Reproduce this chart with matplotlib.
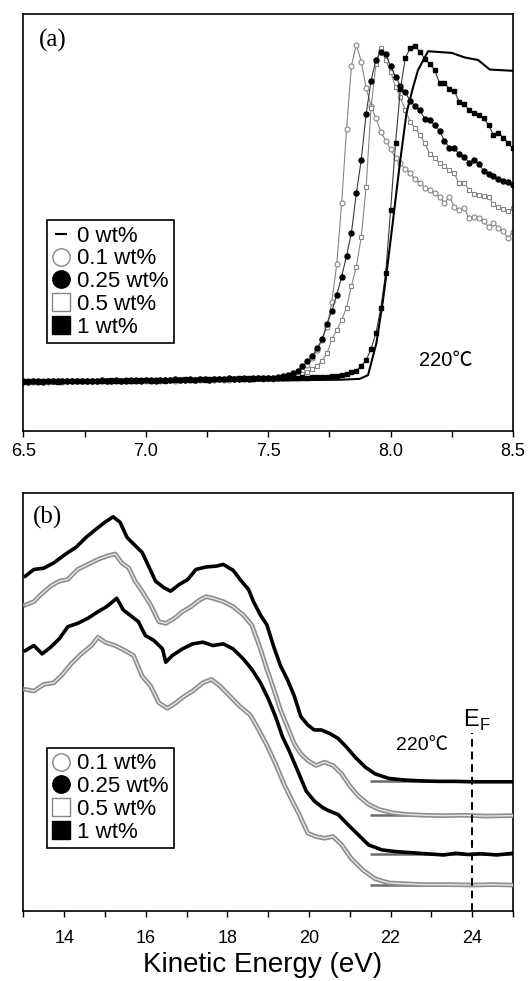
import numpy as np
import matplotlib
matplotlib.use("Agg")
import matplotlib.pyplot as plt
from matplotlib.lines import Line2D

plt.rcParams["font.family"] = ["Liberation Sans", "Noto Sans CJK SC", "DejaVu Sans"]

# ---- panel (a): secondary electron cutoff, 6.5 - 8.5 eV, 0.02 eV steps ----
energy_a = np.round(np.arange(6.5, 8.501, 0.02), 2)

cutoff_0 = [11.9, 12.0, 12.1, 12.3, 12.5, 13.4, 21.1, 31.4, 41.0, 50.6,
            64.3, 76.3, 82.5, 86.6, 91.1, 90.7, 89.6, 89.0, 86.7, 86.4]
energy_0 = [6.5, 7.0, 7.5, 7.80, 7.874, 7.908, 7.942, 7.969, 7.990, 8.010,
            8.038, 8.065, 8.092, 8.112, 8.153, 8.249, 8.303, 8.357, 8.405, 8.5]

cutoff_01 = [11.8, 11.9, 11.7, 11.8, 11.9, 11.8, 12.0, 11.9, 11.8, 12.0,
             11.9, 12.1, 11.9, 12.0, 12.1, 12.0, 11.9, 12.1, 12.0, 12.1,
             12.0, 12.2, 12.0, 12.1, 12.2, 12.1, 12.0, 12.2, 12.1, 12.2,
             12.2, 12.1, 12.3, 12.2, 12.2, 12.3, 12.2, 12.4, 12.3, 12.2,
             12.4, 12.3, 12.3, 12.5, 12.4, 12.4, 12.5, 12.4, 12.6, 12.5,
             12.6, 12.5, 12.7, 12.7, 12.8,
             13.0, 13.5, 14.4, 15.8, 17.4, 19.4, 21.8, 25.0, 31.0, 40.0,
             54.6, 72.4, 87.6, 92.7, 88.6, 82.3, 78.0, 75.0, 71.8, 69.6,
             67.6, 65.4, 64.2, 62.9, 61.8, 60.4, 59.6, 58.4, 57.9, 57.1,
             56.2, 54.7, 56.2, 53.8, 53.0, 53.6, 51.0, 51.3, 51.0, 50.4,
             49.0, 50.0, 48.6, 48.0, 46.2, 47.8]

cutoff_025 = [12.0, 11.8, 11.9, 12.0, 11.8, 11.9, 12.0, 12.1, 11.9, 12.0,
              12.1, 12.0, 11.9, 12.1, 12.0, 12.1, 12.2, 12.0, 12.1, 12.2,
              12.1, 12.0, 12.2, 12.3, 12.1, 12.2, 12.3, 12.1, 12.2, 12.3,
              12.2, 12.4, 12.3, 12.2, 12.4, 12.3, 12.4, 12.5, 12.3, 12.4,
              12.5, 12.4, 12.6, 12.5, 12.4, 12.6, 12.5, 12.6, 12.7, 12.6,
              12.6, 12.7, 12.9, 13.2, 13.5,
              14.0, 14.4, 15.5, 16.7, 17.9, 19.8, 22.0, 25.6, 28.8, 32.6,
              37.0, 42.0, 47.6, 57.0, 65.0, 76.0, 84.0, 89.0, 91.0, 90.4,
              87.5, 85.0, 82.8, 81.2, 79.2, 77.9, 76.9, 74.8, 74.5, 73.4,
              72.0, 69.6, 68.0, 67.8, 66.4, 65.8, 64.4, 65.0, 64.0, 62.4,
              61.7, 61.1, 60.4, 59.9, 59.8, 59.0]

cutoff_05 = [11.9, 12.0, 11.8, 11.9, 12.0, 11.9, 11.8, 12.0, 12.1, 11.9,
             12.0, 12.1, 12.0, 11.9, 12.1, 12.0, 12.1, 12.2, 12.0, 12.1,
             12.2, 12.1, 12.0, 12.2, 12.2, 12.1, 12.3, 12.2, 12.2, 12.3,
             12.3, 12.2, 12.4, 12.3, 12.3, 12.4, 12.3, 12.4, 12.5, 12.4,
             12.5, 12.4, 12.5, 12.6, 12.5, 12.5, 12.6, 12.7, 12.6, 12.7,
             12.7, 12.8, 12.8, 12.9, 13.0,
             13.2, 13.4, 13.7, 14.1, 14.8, 15.6, 16.9, 18.6, 22.0, 24.2,
             26.6, 29.6, 34.8, 39.4, 46.5, 58.5, 77.5, 88.0, 91.8, 89.0,
             86.2, 82.6, 80.0, 77.0, 74.2, 72.6, 71.0, 69.0, 66.4, 65.6,
             64.2, 63.6, 62.6, 61.8, 59.4, 59.6, 57.8, 56.9, 56.6, 56.3,
             56.2, 54.4, 53.8, 53.2, 52.7, 53.4]

cutoff_1 = [11.8, 11.9, 12.0, 11.8, 11.9, 12.0, 11.9, 11.8, 12.0, 12.0,
            11.9, 12.0, 12.1, 12.0, 11.9, 12.1, 12.0, 12.1, 12.2, 12.0,
            12.1, 12.2, 12.1, 12.0, 12.2, 12.2, 12.1, 12.3, 12.2, 12.1,
            12.3, 12.2, 12.3, 12.4, 12.2, 12.3, 12.4, 12.3, 12.4, 12.5,
            12.4, 12.5, 12.4, 12.5, 12.6, 12.5, 12.6, 12.5, 12.6, 12.7,
            12.6, 12.7, 12.6, 12.7, 12.7,
            12.8, 12.8, 12.9, 12.8, 12.9, 13.0, 12.9, 13.0, 13.1, 13.2,
            13.5, 13.7, 14.1, 14.5, 15.6, 17.0, 19.6, 23.5, 29.5, 38.0,
            53.0, 69.0, 82.0, 89.5, 91.8, 92.3, 91.0, 89.2, 88.0, 86.6,
            83.4, 83.4, 82.1, 81.6, 79.0, 78.5, 77.0, 76.3, 75.9, 75.1,
            73.4, 71.0, 71.5, 70.4, 69.0, 67.8]

# ---- panel (b): valence band spectra ----
energy_b1 = [13.05, 13.26, 13.5, 13.75, 14.04, 14.29, 14.54, 14.79, 15.0, 15.2,
             15.37, 15.54, 15.7, 15.91, 16.07, 16.24, 16.45, 16.61, 16.82, 17.03,
             17.23, 17.48, 17.73, 17.9, 18.14, 18.31, 18.52, 18.64, 18.81, 18.97,
             19.14, 19.3, 19.47, 19.64, 19.8, 19.97, 20.13, 20.3, 20.5, 20.71,
             20.92, 21.13, 21.38, 21.62, 21.96, 22.37, 22.8, 23.2, 23.6, 24.0,
             24.5, 25.0]
vb_1 = [80.1, 81.7, 82.0, 83.3, 85.4, 87.0, 89.4, 91.4, 93.0, 94.3,
        93.0, 89.4, 87.8, 85.8, 82.5, 78.9, 77.3, 76.5, 78.1, 79.3,
        81.7, 82.3, 82.5, 82.9, 81.5, 79.3, 76.9, 74.0, 70.8, 68.4,
        63.1, 58.7, 55.4, 51.4, 46.5, 44.5, 43.3, 43.3, 42.5, 41.3,
        39.2, 36.8, 34.4, 32.8, 31.7, 31.3, 31.1, 31.0, 31.0, 30.9,
        30.9, 30.9]

energy_b2 = [13.05, 13.26, 13.42, 13.67, 13.88, 14.09, 14.33, 14.58, 14.83, 15.08,
             15.25, 15.41, 15.58, 15.74, 15.91, 16.12, 16.32, 16.49, 16.7, 16.9,
             17.11, 17.32, 17.48, 17.65, 17.9, 18.14, 18.39, 18.6, 18.81, 18.97,
             19.14, 19.3, 19.47, 19.64, 19.8, 19.97, 20.17, 20.38, 20.59, 20.8,
             21.0, 21.21, 21.46, 21.71, 22.04, 22.37, 22.8, 23.3, 23.8, 24.3,
             25.0]
vb_2 = [73.2, 74.0, 75.6, 77.7, 78.9, 79.3, 81.7, 82.9, 84.1, 85.0,
        85.4, 83.3, 82.1, 78.9, 76.5, 73.2, 69.2, 68.8, 70.0, 71.6,
        72.8, 74.4, 75.2, 74.8, 74.0, 72.8, 70.8, 68.4, 62.7, 57.8,
        53.0, 48.1, 44.1, 40.0, 37.6, 36.0, 34.8, 35.6, 34.8, 32.8,
        29.9, 27.5, 25.5, 24.3, 23.5, 23.1, 22.9, 22.8, 22.9, 22.7,
        22.8]

energy_b3 = [13.05, 13.26, 13.46, 13.67, 13.88, 14.09, 14.33, 14.58, 14.83, 15.04,
             15.29, 15.45, 15.61, 15.82, 15.99, 16.2, 16.41, 16.49, 16.65, 16.9,
             17.15, 17.4, 17.65, 17.9, 18.14, 18.39, 18.6, 18.81, 19.01, 19.18,
             19.35, 19.51, 19.72, 19.93, 20.13, 20.34, 20.5, 20.71, 20.96, 21.21,
             21.46, 21.79, 22.12, 22.7, 23.0, 23.3, 23.6, 23.9, 24.2, 24.6,
             25.0]
vb_3 = [62.3, 63.5, 61.5, 63.1, 65.1, 68.0, 68.8, 70.0, 71.6, 72.8,
        74.8, 72.0, 70.8, 69.2, 65.9, 64.7, 62.7, 59.5, 61.1, 62.7,
        63.9, 64.3, 63.5, 63.9, 62.7, 60.3, 57.8, 54.6, 50.6, 46.5,
        41.7, 38.4, 33.6, 28.7, 26.3, 24.7, 23.9, 23.1, 20.6, 18.2,
        15.8, 14.6, 14.2, 13.8, 13.6, 13.4, 13.8, 13.5, 13.7, 13.4,
        13.8]

energy_b4 = [13.05, 13.26, 13.5, 13.75, 13.96, 14.17, 14.42, 14.67, 14.83, 15.0,
             15.25, 15.49, 15.7, 15.91, 16.12, 16.32, 16.53, 16.74, 16.95, 17.15,
             17.4, 17.61, 17.82, 18.06, 18.31, 18.56, 18.77, 18.97, 19.18, 19.39,
             19.55, 19.76, 19.97, 20.17, 20.38, 20.59, 20.8, 21.04, 21.33, 21.62,
             21.96, 22.37, 22.8, 23.4, 24.0, 24.5, 25.0]
vb_4 = [53.0, 52.6, 54.2, 54.6, 56.6, 59.1, 61.5, 63.5, 65.5, 64.3,
        63.5, 62.3, 61.1, 56.2, 53.8, 49.8, 48.5, 49.8, 51.4, 52.6,
        54.6, 55.4, 53.8, 51.4, 48.9, 46.9, 43.3, 39.6, 35.2, 30.3,
        27.1, 23.1, 18.6, 17.8, 17.4, 17.8, 15.8, 12.5, 9.7, 7.7,
        6.7, 6.5, 6.3, 6.3, 6.2, 6.3, 6.2]

vb_baselines = [31.0, 22.9, 13.7, 6.2]
baseline_start = 21.5
fermi_level = 24.0

labels_a = ["0 wt%", "0.1 wt%", "0.25 wt%", "0.5 wt%", "1 wt%"]
labels_b = ["0.1 wt%", "0.25 wt%", "0.5 wt%", "1 wt%"]

GRAY = "#858585"
DARK = "#3a3a3a"

fig = plt.figure(figsize=(5.30, 9.81), dpi=100)
ax_a = fig.add_axes([0.044, 0.5607, 0.924, 0.4249])
ax_b = fig.add_axes([0.044, 0.0714, 0.924, 0.4261])

# panel (a)
ax_a.plot(energy_a, cutoff_01, color=GRAY, lw=0.8, marker="o", ms=3.6,
          mfc="white", mec=GRAY, mew=0.8)
ax_a.plot(energy_a, cutoff_05, color=GRAY, lw=0.8, marker="s", ms=3.4,
          mfc="white", mec=GRAY, mew=0.8)
ax_a.plot(energy_a, cutoff_025, color=DARK, lw=0.8, marker="o", ms=3.6,
          mfc="black", mec="black")
ax_a.plot(energy_a, cutoff_1, color=DARK, lw=0.8, marker="s", ms=3.4,
          mfc="black", mec="black")
ax_a.plot(energy_0, cutoff_0, color="black", lw=1.5)

ax_a.set_xlim(6.5, 8.5)
ax_a.set_ylim(0, 100)
ax_a.set_xticks([6.5, 7.0, 7.5, 8.0, 8.5])
ax_a.set_xticklabels(["6.5", "7.0", "7.5", "8.0", "8.5"])
ax_a.set_xticks([6.75, 7.25, 7.75, 8.25], minor=True)
ax_a.tick_params(axis="x", which="both", direction="out", length=4, width=1,
                 labelsize=13, pad=5)
ax_a.set_yticks([])

ax_a.text(0.032, 0.965, "(a)", transform=ax_a.transAxes, ha="left", va="top",
          fontsize=18, family="Liberation Serif")
ax_a.text(8.226, 16.8, "220\u2103", ha="center", va="center", fontsize=14.5)

mk = dict(ls="none", ms=12.5, mew=1)
handles_a = [
    Line2D([], [], ls="none", marker="_", ms=8, mew=1.5, color="black"),
    Line2D([], [], marker="o", mfc="white", mec=GRAY, **mk),
    Line2D([], [], marker="o", mfc="black", mec="black", **mk),
    Line2D([], [], marker="s", mfc="white", mec=GRAY, **mk),
    Line2D([], [], marker="s", mfc="black", mec="black", **mk),
]
leg_a = ax_a.legend(handles_a, labels_a, loc="upper left",
                    bbox_to_anchor=(0.048, 0.506), borderaxespad=0,
                    fancybox=False, edgecolor="black", framealpha=1,
                    fontsize=16, handlelength=0.8, handletextpad=0.3,
                    labelspacing=0.08, borderpad=0.25)
leg_a.get_frame().set_linewidth(1.2)

# panel (b)
for e, v, c in [(energy_b1, vb_1, "black"), (energy_b2, vb_2, "gray"),
                (energy_b3, vb_3, "black"), (energy_b4, vb_4, "gray")]:
    if c == "black":
        ax_b.plot(e, v, color="black", lw=2.6, zorder=3)
    else:
        ax_b.plot(e, v, color="#8e8e8e", lw=3.4, zorder=3)
        ax_b.plot(e, v, color="#e6e6e6", lw=1.0, zorder=3)

ax_b.hlines(vb_baselines, baseline_start, 25, colors="#6a6a6a", lw=1.8, zorder=2)
ax_b.axvline(fermi_level, ymin=0, ymax=0.425, color="black", lw=1.4,
             ls=(0, (4, 2.5)), zorder=4)
ax_b.text(23.78, 44.0, "E$_\\mathregular{F}$", ha="left", va="baseline",
          fontsize=17)
ax_b.text(22.77, 39.7, "220\u2103", ha="center", va="center", fontsize=14)
ax_b.text(0.020, 0.970, "(b)", transform=ax_b.transAxes, ha="left", va="top",
          fontsize=18, family="Liberation Serif")

ax_b.set_xlim(13, 25)
ax_b.set_ylim(0, 100)
ax_b.set_xticks([14, 16, 18, 20, 22, 24])
ax_b.set_xticks([13, 15, 17, 19, 21, 23, 25], minor=True)
ax_b.tick_params(axis="x", which="both", direction="out", length=4, width=1,
                 labelsize=13, pad=10)
ax_b.set_yticks([])

handles_b = handles_a[1:]
leg_b = ax_b.legend(handles_b, labels_b, loc="upper left",
                    bbox_to_anchor=(0.048, 0.39), borderaxespad=0,
                    fancybox=False, edgecolor="black", framealpha=1,
                    fontsize=16, handlelength=0.8, handletextpad=0.3,
                    labelspacing=0.08, borderpad=0.25)
leg_b.get_frame().set_linewidth(1.2)

for ax in (ax_a, ax_b):
    for s in ax.spines.values():
        s.set_linewidth(1.2)

fig.text(0.495, 0.003, "Kinetic Energy (eV)", ha="center", va="bottom",
         fontsize=20)

fig.savefig("out.png", dpi=100)
